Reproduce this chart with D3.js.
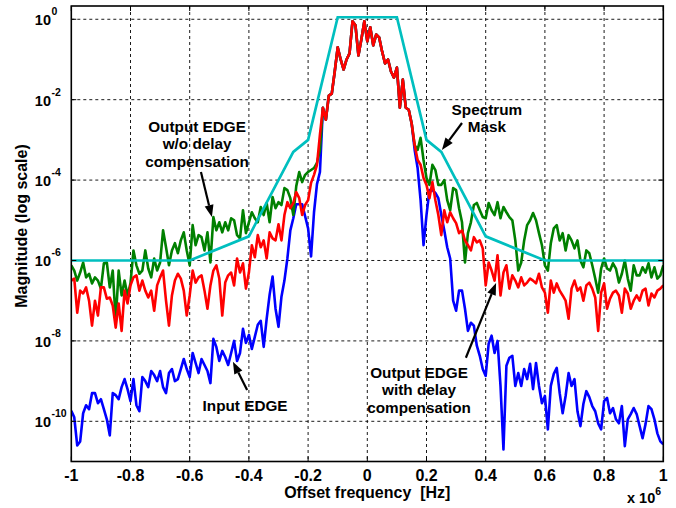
<!DOCTYPE html>
<html>
<head>
<meta charset="utf-8">
<script src="https://cdn.jsdelivr.net/npm/d3@7"></script>
<style>
  html, body { margin: 0; padding: 0; background: #fff; }
  svg { display: block; font-family: "Liberation Sans", Arial, Helvetica, sans-serif; font-weight: bold; }
</style>
</head>
<body>
<svg id="chart" width="676" height="508"></svg>
<script>
/* EDGE spectrum: input vs. output with / without delay compensation, log magnitude. */

// Frequency grid (x 1e6 Hz), one sample every 0.01 from -1 to 1.
const freqStep = 0.01;

// All curve values are log10(magnitude).
// Left wing: f = -1.00 .. -0.16
const inputLeft = [
  -9.74, -9.9, -10.6, -10.5, -9.8, -9.6, -9.7, -9.3, -9.3, -9.55,
  -9.45, -9.7, -9.95, -10.35, -9.3, -9.35, -9.45, -9.15, -8.95, -9.2,
  -9.5, -8.95, -9.6, -9.75, -8.9, -9.0, -9.15, -8.75, -8.85, -9.0,
  -8.75, -9.15, -9.3, -8.8, -8.7, -9.0, -8.95, -8.7, -8.45, -8.7,
  -8.9, -8.3, -8.55, -8.8, -8.45, -8.6, -8.75, -9.05, -7.95, -8.15,
  -8.5, -8.25, -8.4, -8.6, -8.3, -8.0, -8.5, -8.3, -7.7, -8.05,
  -7.85, -8.2, -7.9, -7.6, -7.5, -8.15, -7.45, -6.85, -6.4, -7.2,
  -7.65, -6.9, -6.5, -5.95, -5.25, -4.95, -4.6, -4.6, -4.6, -4.9,
  -5.2, -5.9, -4.8, -4.1, -3.8
];
const withDelayLeft = [
  -6.5, -6.45, -7.3, -6.75, -6.82, -6.67, -7.0, -7.62, -7.0, -7.37,
  -6.67, -6.67, -6.95, -6.92, -7.12, -7.67, -7.07, -7.75, -6.75, -7.07,
  -6.62, -6.42, -6.37, -6.75, -6.5, -6.75, -6.92, -6.75, -7.25, -6.62,
  -6.42, -6.25, -7.0, -7.62, -6.87, -6.5, -6.33, -6.45, -6.75, -7.37,
  -6.87, -6.25, -6.55, -6.42, -6.37, -6.75, -7.2, -6.62, -6.25, -6.12,
  -6.45, -7.37, -6.55, -6.37, -6.3, -6.62, -5.95, -6.3, -6.07, -6.7,
  -6.3, -5.62, -5.92, -5.37, -5.67, -5.5, -5.95, -5.3, -5.45, -5.5,
  -5.1, -5.5, -4.87, -4.55, -4.7, -4.57, -4.3, -4.45, -4.87, -4.62,
  -4.5, -4.07, -3.87, -3.62, -2.87
];
const noDelayLeft = [
  -6.12, -6.25, -6.5, -6.3, -6.05, -6.42, -6.33, -6.57, -6.42, -6.5,
  -6.7, -6.07, -6.05, -6.67, -6.25, -7.5, -6.25, -6.87, -6.5, -6.87,
  -6.57, -5.75, -6.12, -6.33, -6.25, -5.75, -6.2, -6.42, -5.95, -6.25,
  -6.05, -5.25, -5.67, -6.12, -5.75, -5.57, -5.82, -5.5, -5.3, -5.75,
  -6.12, -5.12, -5.62, -5.37, -5.42, -5.75, -5.3, -6.05, -4.92, -5.25,
  -5.05, -5.3, -5.05, -5.25, -4.95, -5.0, -5.37, -5.45, -4.75, -5.32,
  -5.05, -4.8, -4.95, -5.05, -4.67, -4.87, -4.57, -5.05, -4.42, -4.7,
  -4.55, -4.62, -4.2, -4.25, -4.45, -4.87, -4.15, -3.8, -4.05, -3.87,
  -3.8, -3.75, -3.7, -3.57, -3.25
];
// Main lobe, common to all three curves: f = -0.15 .. 0.15
const sharedLobe = [
  -2.2, -2.5, -1.9, -1.85, -1.3, -0.7, -1.0, -1.25, -1.0, -0.85,
  -0.05, -0.15, -0.9, -0.5, -0.05, -0.55, -0.2, -0.65, -0.38, -0.45,
  -0.8, -1.1, -1.0, -1.3, -1.45, -1.2, -2.2, -1.5, -2.2, -2.25,
  -2.6
];
// Right wing: f = 0.16 .. 1.00
const inputRight = [
  -3.25, -3.7, -4.5, -5.62, -4.87, -4.25, -4.25, -4.32, -4.45, -4.87,
  -5.25, -5.67, -5.95, -7.0, -7.25, -6.75, -6.75, -7.2, -7.75, -7.55,
  -7.62, -8.12, -8.37, -8.7, -8.87, -8.07, -7.87, -8.3, -8.0, -9.12,
  -10.7, -8.62, -8.42, -8.37, -9.12, -8.8, -9.12, -8.7, -8.95, -8.57,
  -9.2, -8.55, -9.12, -9.55, -9.37, -10.2, -9.12, -8.82, -8.67, -9.3,
  -9.8, -9.37, -8.8, -9.12, -8.95, -9.75, -10.12, -9.57, -9.25, -9.4,
  -9.62, -9.75, -10.05, -10.2, -9.5, -9.42, -9.8, -9.67, -9.95, -10.05,
  -9.62, -10.62, -9.95, -9.82, -9.67, -9.82, -10.12, -10.42, -10.07, -9.62,
  -9.7, -9.95, -10.3, -10.5, -10.57
];
const withDelayRight = [
  -3.13, -3.5, -3.62, -3.95, -4.12, -4.45, -4.05, -4.5, -4.87, -5.37,
  -4.75, -5.05, -4.8, -4.95, -5.07, -5.32, -5.25, -5.5, -5.62, -5.75,
  -5.42, -5.55, -5.5, -5.7, -6.62, -6.05, -6.25, -6.5, -5.87, -6.87,
  -6.3, -6.12, -6.7, -6.37, -6.5, -6.67, -6.42, -6.62, -6.55, -6.45,
  -6.5, -6.57, -6.33, -6.67, -6.8, -7.3, -6.5, -6.8, -6.57, -6.75,
  -6.87, -7.0, -7.45, -6.7, -6.5, -6.75, -6.67, -7.0, -6.62, -6.55,
  -6.7, -6.92, -7.75, -6.8, -6.57, -7.2, -6.95, -6.8, -6.75, -6.87,
  -7.3, -6.7, -6.82, -7.2, -7.0, -6.87, -7.0, -6.75, -6.7, -7.12,
  -6.82, -6.92, -6.75, -6.7, -6.62
];
const noDelayRight = [
  -3.13, -3.25, -2.95, -3.5, -3.95, -4.12, -3.62, -3.75, -4.12, -4.12,
  -4.0, -4.5, -4.75, -4.2, -4.25, -4.7, -5.05, -6.05, -5.32, -5.05,
  -4.62, -4.57, -4.75, -4.92, -4.95, -4.57, -4.75, -4.87, -4.55, -4.95,
  -4.67, -4.8, -4.92, -5.0, -5.5, -6.25, -6.05, -5.5, -5.12, -5.0,
  -4.82, -5.0, -5.32, -5.62, -6.12, -6.25, -5.57, -5.2, -5.12, -5.5,
  -5.32, -5.75, -5.37, -5.5, -5.7, -5.5, -6.0, -6.17, -5.75, -5.82,
  -6.12, -6.45, -6.8, -6.2, -5.95, -6.2, -6.25, -6.07, -6.2, -6.55,
  -6.33, -6.0, -6.45, -6.75, -6.12, -6.37, -6.37, -6.17, -6.3, -6.07,
  -6.42, -6.17, -6.45, -6.37, -6.12
];

// Spectrum mask breakpoints (dB, power ratio).
const maskFreq = [-1, -0.6, -0.4, -0.25, -0.2, -0.1, 0.1, 0.2, 0.25, 0.4, 0.6, 1];
const maskDb = [-60, -60, -54, -33, -30, 0.5, 0.5, -30, -33, -54, -60, -60];

const xTicks = [-1, -0.8, -0.6, -0.4, -0.2, 0, 0.2, 0.4, 0.6, 0.8, 1];
const yTickExp = [0, -2, -4, -6, -8, -10];

const svg = d3.select("#chart");
const margin = { left: 71.3, right: 663.3, top: 6, bottom: 461.5 };

const x = d3.scaleLinear().domain([-1, 1]).range([margin.left, margin.right]);
const y = d3.scaleLog().domain([1e-11, Math.pow(10, 0.33)]).range([margin.bottom, margin.top]);

const series = [
  { name: "input", color: "#0000ff", values: [...inputLeft, ...sharedLobe, ...inputRight] },
  { name: "noDelay", color: "#008000", values: [...noDelayLeft, ...sharedLobe, ...noDelayRight] },
  { name: "withDelay", color: "#ff0000", values: [...withDelayLeft, ...sharedLobe, ...withDelayRight] }
];

svg.append("defs").append("clipPath").attr("id", "plot-clip")
  .append("rect")
  .attr("x", margin.left).attr("y", margin.top)
  .attr("width", margin.right - margin.left).attr("height", margin.bottom - margin.top);

// grid
const grid = svg.append("g").attr("stroke", "#000").attr("stroke-width", 0.9)
  .attr("stroke-dasharray", "3,3");
grid.selectAll("line.vx")
  .data(xTicks.slice(1, -1))
  .join("line")
  .attr("x1", (d) => x(d)).attr("x2", (d) => x(d))
  .attr("y1", margin.top).attr("y2", margin.bottom);
grid.selectAll("line.hy")
  .data(yTickExp)
  .join("line")
  .attr("x1", margin.left).attr("x2", margin.right)
  .attr("y1", (d) => y(Math.pow(10, d))).attr("y2", (d) => y(Math.pow(10, d)));

// curves
const plot = svg.append("g").attr("clip-path", "url(#plot-clip)");
const line = d3.line()
  .x((d) => x(d[0]))
  .y((d) => y(d[1]));

series.forEach((s) => {
  const pts = s.values.map((v, i) => [-1 + i * freqStep, Math.pow(10, v)]);
  plot.append("path")
    .datum(pts)
    .attr("fill", "none")
    .attr("stroke", s.color)
    .attr("stroke-width", 2.6)
    .attr("stroke-linejoin", "round")
    .attr("d", line);
});

plot.append("path")
  .datum(maskFreq.map((f, i) => [f, Math.pow(10, maskDb[i] / 10)]))
  .attr("fill", "none")
  .attr("stroke", "#00bfbf")
  .attr("stroke-width", 2.7)
  .attr("d", line);

// frame + inside ticks
svg.append("rect")
  .attr("x", margin.left).attr("y", margin.top)
  .attr("width", margin.right - margin.left).attr("height", margin.bottom - margin.top)
  .attr("fill", "none").attr("stroke", "#000").attr("stroke-width", 1.6);

const ticks = svg.append("g").attr("stroke", "#000").attr("stroke-width", 1);
xTicks.forEach((t) => {
  ticks.append("line").attr("x1", x(t)).attr("x2", x(t)).attr("y1", margin.bottom).attr("y2", margin.bottom - 5);
  ticks.append("line").attr("x1", x(t)).attr("x2", x(t)).attr("y1", margin.top).attr("y2", margin.top + 5);
});
yTickExp.forEach((e) => {
  const yy = y(Math.pow(10, e));
  ticks.append("line").attr("x1", margin.left).attr("x2", margin.left + 5).attr("y1", yy).attr("y2", yy);
  ticks.append("line").attr("x1", margin.right).attr("x2", margin.right - 5).attr("y1", yy).attr("y2", yy);
});

// tick labels
svg.append("g").selectAll("text")
  .data(xTicks)
  .join("text")
  .attr("x", (d) => x(d))
  .attr("y", margin.bottom + 19)
  .attr("text-anchor", "middle")
  .attr("font-size", 16)
  .text((d) => String(d));

const yl = svg.append("g").selectAll("g")
  .data(yTickExp)
  .join("g")
  .attr("transform", (d) => `translate(0,${y(Math.pow(10, d))})`);
yl.append("text")
  .attr("x", 51).attr("y", 6)
  .attr("text-anchor", "end")
  .attr("font-size", 14.5)
  .text("10");
yl.append("text")
  .attr("x", 51.5).attr("y", -4)
  .attr("font-size", 10.5)
  .text((d) => String(d));

// axis titles
svg.append("text")
  .attr("x", x(0)).attr("y", 498)
  .attr("text-anchor", "middle")
  .attr("font-size", 16)
  .style("white-space", "pre")
  .text("Offset frequency  [Hz]");

const mult = svg.append("text").attr("x", 627).attr("y", 503).attr("font-size", 14.5);
mult.append("tspan").text("x 10");
mult.append("tspan").attr("dy", -8).attr("font-size", 10.5).text("6");

svg.append("text")
  .attr("transform", `translate(27,${226}) rotate(-90)`)
  .attr("text-anchor", "middle")
  .attr("font-size", 16)
  .text("Magnitude (log scale)");

// annotations, placed in data coordinates (f, log10 magnitude)
const notes = [
  { f: -0.575, e: -2.8, lines: ["Output EDGE", "w/o delay", "compensation"] },
  { f: 0.404, e: -2.38, lines: ["Spectrum", "Mask"] },
  { f: -0.413, e: -9.74, lines: ["Input EDGE"] },
  { f: 0.175, e: -8.92, lines: ["Output EDGE", "with delay", "compensation"] }
];
const arrows = [
  { from: [-0.562, -3.8], to: [-0.525, -4.92] },
  { from: [0.32, -2.58], to: [0.252, -3.25] },
  { from: [-0.406, -9.22], to: [-0.454, -8.52] },
  { from: [0.333, -8.42], to: [0.435, -6.56] }
];

const ann = svg.append("g");
notes.forEach((n) => {
  const t = ann.append("text")
    .attr("x", x(n.f)).attr("y", y(Math.pow(10, n.e)))
    .attr("text-anchor", "middle")
    .attr("font-size", 15.3);
  n.lines.forEach((l, i) => {
    t.append("tspan").attr("x", x(n.f)).attr("dy", i ? 17.5 : 0).text(l);
  });
});

arrows.forEach((a) => {
  const x0 = x(a.from[0]), y0 = y(Math.pow(10, a.from[1]));
  const x1 = x(a.to[0]), y1 = y(Math.pow(10, a.to[1]));
  const ang = Math.atan2(y1 - y0, x1 - x0);
  const len = 12, half = 4.5;
  const bx = x1 - len * Math.cos(ang), by = y1 - len * Math.sin(ang);
  ann.append("line")
    .attr("x1", x0).attr("y1", y0).attr("x2", bx).attr("y2", by)
    .attr("stroke", "#000").attr("stroke-width", 2.2);
  const px = -Math.sin(ang) * half, py = Math.cos(ang) * half;
  ann.append("path")
    .attr("d", `M${x1},${y1}L${bx + px},${by + py}L${bx - px},${by - py}Z`)
    .attr("fill", "#000");
});
</script>
</body>
</html>
